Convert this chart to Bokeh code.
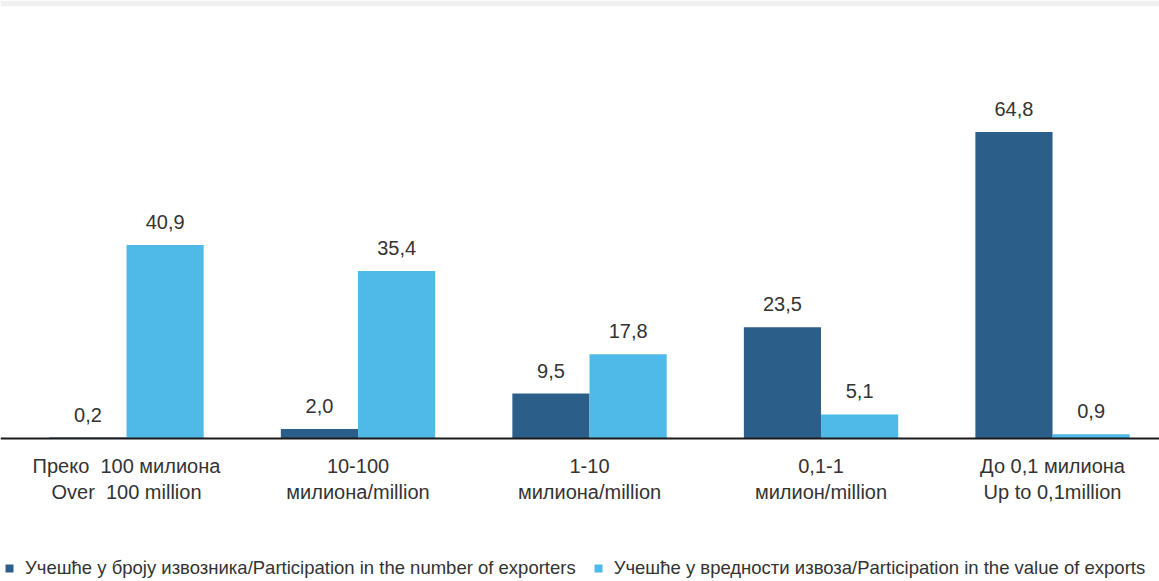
from bokeh.plotting import figure
from bokeh.models import ColumnDataSource, FixedTicker, Legend, LegendItem
from bokeh.core.properties import value
from bokeh.embed import file_html
from bokeh.resources import INLINE
import numpy as np

categories = [
    "Преко\u00a0 100 милиона\nOver\u00a0 100 million",
    "10-100\nмилиона/million",
    "1-10\nмилиона/million",
    "0,1-1\nмилион/million",
    "До 0,1 милиона\nUp to 0,1million",
]
exporters = [0.2, 2.0, 9.5, 23.5, 64.8]
export_value = [40.9, 35.4, 17.8, 5.1, 0.9]
series_names = [
    "Учешће у броју извозника/Participation in the number of exporters",
    "Учешће у вредности извоза/Participation in the value of exports",
]

DARK = "#2C5E8A"
LIGHT = "#4FB9E8"
TEXT = "#333333"
FONT = "Liberation Sans"

idx = np.arange(len(categories))
bw = 1.0 / 3.0

src1 = ColumnDataSource(dict(x=idx - bw / 2, top=exporters,
                             lab=[f"{v:.1f}".replace(".", ",") for v in exporters]))
src2 = ColumnDataSource(dict(x=idx + bw / 2, top=export_value,
                             lab=[f"{v:.1f}".replace(".", ",") for v in export_value]))

p = figure(width=1159, height=581, output_backend="svg", toolbar_location=None,
           x_range=(-0.5443, 4.462), y_range=(-30.23, 91.33),
           y_axis_location=None, min_border=0)
p.min_border_left = 0
p.min_border_right = 0
p.min_border_top = 6
p.min_border_bottom = 0
p.border_fill_color = "#f0f0f0"
p.background_fill_color = "white"
p.outline_line_color = None
p.grid.visible = False

r1 = p.vbar(x="x", top="top", width=bw, source=src1, fill_color=DARK, line_color=None)
r2 = p.vbar(x="x", top="top", width=bw, source=src2, fill_color=LIGHT, line_color=None)

for s in (src1, src2):
    p.text(x="x", y="top", text="lab", source=s, text_align="center",
           text_baseline="middle", y_offset=-23, text_color=TEXT,
           text_font=value(FONT), text_font_size="20px")

ax = p.xaxis[0]
ax.fixed_location = 0
ax.ticker = FixedTicker(ticks=list(idx))
ax.major_label_overrides = {int(i): c for i, c in zip(idx, categories)}
ax.axis_line_color = "#1a1a1a"
ax.axis_line_width = 2
ax.major_tick_line_color = None
ax.minor_tick_line_color = None
ax.major_label_standoff = 10
ax.major_label_text_font = FONT
ax.major_label_text_font_size = "20px"
ax.major_label_text_color = TEXT

legend = Legend(items=[LegendItem(label=series_names[0], renderers=[r1]),
                       LegendItem(label=series_names[1], renderers=[r2])],
                location=(4, 2), orientation="horizontal",
                glyph_width=10, glyph_height=10, label_standoff=11, spacing=17,
                padding=0, margin=0, border_line_color=None,
                background_fill_alpha=0, label_text_font=FONT,
                label_text_font_size="18.5px", label_text_color=TEXT)
p.add_layout(legend, "center")

open("out.html", "w").write(file_html(p, INLINE))
